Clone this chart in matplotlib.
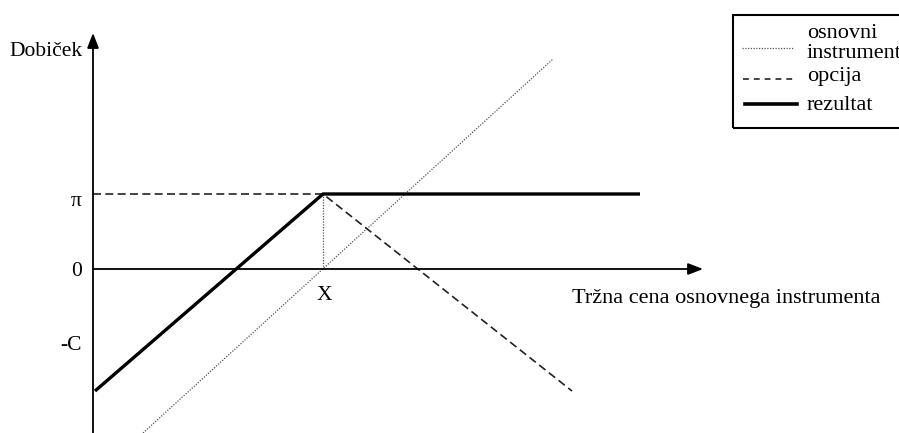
import matplotlib.pyplot as plt
from matplotlib.patches import Rectangle

plt.rcParams['font.family'] = ['Liberation Serif', 'DejaVu Serif']

# Koordinate (shema), izhodisce v presecisu osi
osnovni_x = [50, 460]
osnovni_y = [-164, 210]
opcija_x = [0, 230, 479]
opcija_y = [75, 75, -122]
rezultat_x = [2, 230, 547]
rezultat_y = [-122, 75, 75]
X = 230
pi_val = 75
C_val = -76
y_ticks = [pi_val, 0, C_val]
y_labels = ['π', '0', '-C']
label_shift = [-7, -2, 0]

fig = plt.figure(figsize=(8.99, 4.33), dpi=100)
ax = fig.add_axes([0, 0, 1, 1])
ax.set_xlim(-93, 806)
ax.set_ylim(-164, 269)
ax.axis('off')

# osi s puscicami
ax.annotate('', xy=(610, 0), xytext=(0, 0),
            arrowprops=dict(arrowstyle='-|>,head_length=0.9,head_width=0.35', color='black', lw=1.3, shrinkA=0, shrinkB=0))
ax.annotate('', xy=(0, 236), xytext=(0, -164),
            arrowprops=dict(arrowstyle='-|>,head_length=0.9,head_width=0.35', color='black', lw=1.3, shrinkA=0, shrinkB=0))

ax.plot(osnovni_x, osnovni_y, color='#555555', lw=0.9, linestyle=(0, (1, 1.2)))
ax.plot([X, X], [0, pi_val], color='#555555', lw=0.9, linestyle=(0, (1, 1.2)))
ax.plot(opcija_x, opcija_y, color='#222222', lw=1.2, linestyle=(0, (4.8, 2.6)))
ax.plot(rezultat_x, rezultat_y, color='black', lw=2.4, solid_capstyle='butt', solid_joinstyle='miter')

for val, lab, sh in zip(y_ticks, y_labels, label_shift):
    ax.text(-11, val + sh, lab, ha='right', va='center', fontsize=15.5)
ax.text(X + 1, -27, 'X', ha='center', va='center', fontsize=15.5)
ax.text(-10, 217, 'Dobiček', ha='right', va='center', fontsize=15.5)
ax.text(479, -30, 'Tržna cena osnovnega instrumenta', ha='left', va='center', fontsize=16)

# legenda
ax.add_patch(Rectangle((640, 141), 200, 113, fill=False, edgecolor='black', lw=1.5, clip_on=False))
ax.plot([649, 700], [221, 221], color='#555555', lw=0.9, linestyle=(0, (1, 1.2)))
ax.plot([650, 702], [190, 190], color='#222222', lw=1.2, linestyle=(0, (3.5, 3)))
ax.plot([652, 704], [165, 165], color='black', lw=2.6)
ax.text(714, 236, 'osnovni', ha='left', va='center', fontsize=16)
ax.text(714, 215, 'instrument', ha='left', va='center', fontsize=16)
ax.text(714, 192, 'opcija', ha='left', va='center', fontsize=16)
ax.text(714, 164, 'rezultat', ha='left', va='center', fontsize=16)

fig.savefig('out.png', dpi=100)
